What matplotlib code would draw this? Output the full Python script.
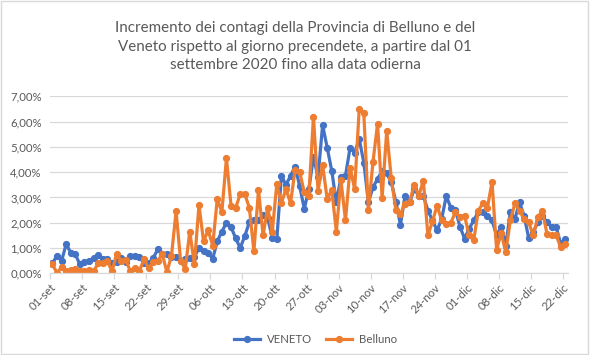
import numpy as np
import pandas as pd
import matplotlib
matplotlib.use('Agg')
from matplotlib import pyplot as plt
from matplotlib.ticker import FuncFormatter
from matplotlib.patches import Rectangle

plt.rcParams['font.family'] = ['Lato', 'DejaVu Sans']

# daily increment (%) from 01-set-2020 to 22-dic-2020
start_date = '2020-09-01'
end_date = '2020-12-22'

veneto = [
    0.40, 0.70, 0.50, 1.15, 0.82, 0.75, 0.35, 0.45, 0.50, 0.60,
    0.72, 0.55, 0.55, 0.40, 0.45, 0.62, 0.45, 0.68, 0.70, 0.65,
    0.40, 0.40, 0.60, 0.95, 0.78, 0.75, 0.65, 0.65, 0.50, 0.55,
    0.62, 0.65, 1.00, 0.90, 0.80, 0.58, 1.27, 1.65, 2.00, 1.83,
    1.40, 1.00, 1.47, 2.02, 2.10, 2.10, 2.30, 2.20, 1.40, 1.34,
    3.86, 3.49, 3.86, 4.22, 3.44, 2.55, 3.33, 4.60, 3.80, 5.86,
    4.97, 4.05, 2.80, 3.80, 3.86, 4.97, 4.77, 5.30, 4.38, 2.80,
    3.40, 3.73, 4.05, 3.95, 3.60, 2.83, 1.92, 3.07, 2.80, 3.33,
    3.07, 3.07, 2.48, 2.09, 1.70, 2.15, 3.05, 2.60, 2.50, 1.85,
    1.37, 1.76, 2.09, 2.42, 2.42, 2.28, 2.09, 1.50, 1.85, 1.10,
    2.42, 2.15, 2.81, 2.28, 1.40, 1.63, 2.02, 2.28, 2.02, 1.83,
    1.83, 1.17, 1.37,
]

belluno = [
    0.35, 0.02, 0.25, 0.08, 0.15, 0.18, 0.08, 0.08, 0.12, 0.08,
    0.40, 0.40, 0.50, 0.08, 0.75, 0.50, 0.52, 0.10, 0.20, 0.10,
    0.55, 0.20, 0.45, 0.50, 0.75, 0.05, 0.70, 2.45, 0.48, 0.19,
    1.65, 0.35, 2.70, 1.27, 1.70, 1.10, 2.94, 2.42, 4.55, 2.68,
    2.57, 3.14, 3.14, 2.59, 0.87, 3.30, 1.50, 2.60, 1.63, 3.53,
    2.78, 3.33, 2.78, 4.10, 4.00, 3.20, 3.07, 6.18, 3.27, 4.29,
    2.94, 3.30, 1.65, 3.69, 2.09, 4.18, 3.33, 6.50, 6.32, 2.50,
    4.40, 5.91, 2.98, 5.63, 3.75, 2.50, 2.35, 2.74, 2.83, 3.49,
    3.07, 3.66, 1.50, 2.05, 2.68, 2.09, 1.96, 2.00, 2.42, 2.22,
    2.28, 1.50, 1.30, 2.48, 2.77, 2.59, 3.62, 0.93, 1.60, 0.84,
    2.09, 2.77, 2.48, 2.15, 2.02, 1.50, 2.22, 2.48, 1.56, 1.50,
    1.50, 1.04, 1.17,
]

tick_labels = ['01-set', '08-set', '15-set', '22-set', '29-set', '06-ott',
               '13-ott', '20-ott', '27-ott', '03-nov', '10-nov', '17-nov',
               '24-nov', '01-dic', '08-dic', '15-dic', '22-dic']

title = ('Incremento dei contagi della Provincia di Belluno e del\n'
         'Veneto rispetto al giorno precendete, a partire dal 01\n'
         'settembre 2020 fino alla data odierna')

days = pd.date_range(start_date, end_date, freq='D')
x = np.arange(len(days))

blue = '#4472C4'
orange = '#ED7D31'
text_grey = '#595959'
grid_grey = '#D9D9D9'

fig = plt.figure(figsize=(5.9, 3.55), dpi=100)
ax = fig.add_axes([0.085, 0.23, 0.877, 0.499])

ax.plot(x, veneto, color=blue, lw=2.3, marker='o', ms=4.2, label='VENETO')
ax.plot(x, belluno, color=orange, lw=2.3, marker='o', ms=4.2, label='Belluno')

ax.set_xlim(-0.5, len(x) - 0.5)
ax.set_ylim(0, 7)
ax.set_yticks(np.arange(0, 8, 1))
ax.yaxis.set_major_formatter(FuncFormatter(lambda v, p: f'{v:.2f}%'.replace('.', ',')))

ax.set_xticks(np.arange(0, len(x), 7) - 0.5)
ax.set_xticklabels(tick_labels, rotation=45, ha='right', rotation_mode='anchor')

ax.grid(axis='y', color=grid_grey, lw=0.9)
ax.set_axisbelow(True)
for s in ['top', 'right', 'left']:
    ax.spines[s].set_visible(False)
ax.spines['bottom'].set_color(grid_grey)
ax.spines['bottom'].set_linewidth(0.9)
ax.tick_params(axis='x', colors=grid_grey, length=4, width=0.9, labelcolor=text_grey,
               labelsize=8.2, pad=2)
ax.tick_params(axis='y', length=0, labelcolor=text_grey, labelsize=8.2, pad=6)

fig.text(0.5, 0.942, title, ha='center', va='top', fontsize=10.9, color=text_grey,
         linespacing=1.45)

fig.legend(loc='lower center', ncol=2, frameon=False, fontsize=8.2,
           bbox_to_anchor=(0.535, 0.0), handlelength=2.3, handletextpad=0.6,
           columnspacing=1.2, labelcolor=text_grey)

fig.patches.append(Rectangle((0.002, 0.003), 0.995, 0.993, transform=fig.transFigure,
                             fill=False, ec=grid_grey, lw=1))

fig.savefig('out.png', dpi=100)
